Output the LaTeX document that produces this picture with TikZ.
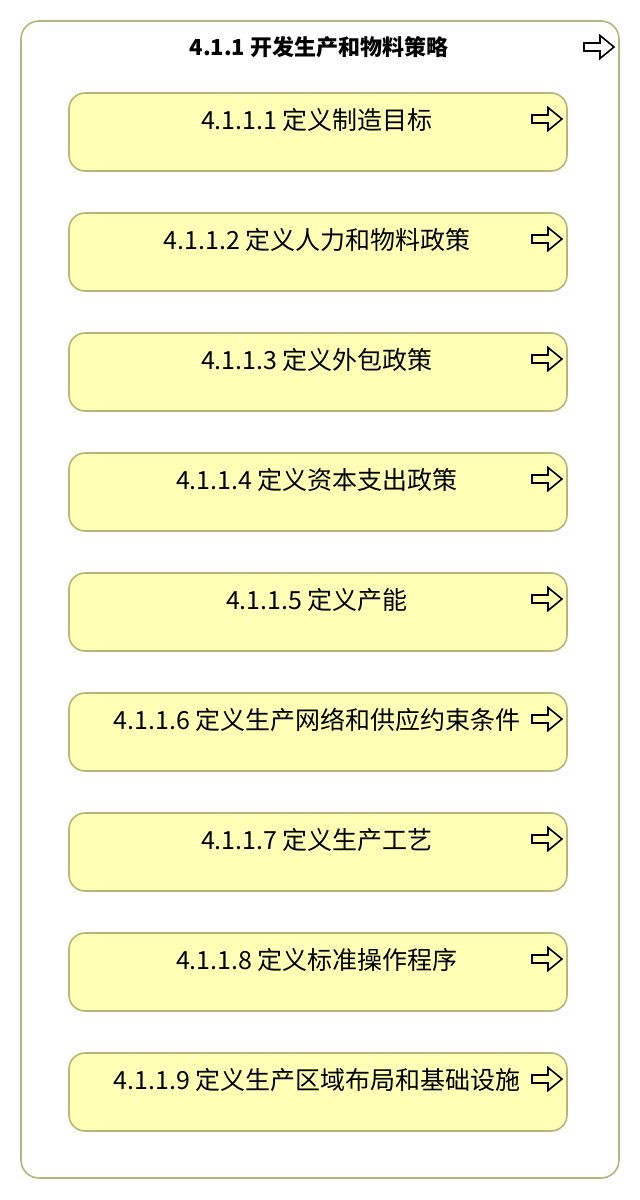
\documentclass[tikz,border=0pt]{standalone}
\usepackage{fontspec}
\setmainfont{Noto Sans CJK SC}
\definecolor{olive}{HTML}{B5B57C}
\definecolor{paleyellow}{HTML}{FFFFB5}
\tikzset{
  outerbox/.style={draw=olive, line width=1.6pt, rounded corners=18pt, fill=white},
  taskbox/.style={draw=olive, line width=1.6pt, rounded corners=16pt, fill=paleyellow},
  tasklabel/.style={anchor=center, inner sep=0pt, font=\fontsize{25}{27}\selectfont},
  titlelabel/.style={anchor=center, inner sep=0pt, font=\fontsize{22}{24}\selectfont\bfseries},
  arrowicon/.style={draw=black, line width=1.6pt, fill=none, line join=miter}
}
\newcommand{\arrowglyph}[2]{%
  \draw[arrowicon] (#1,#2-4) -- ++(16,0) -- ++(0,-7.5) -- ++(14,11.5) -- ++(-14,11.5) -- ++(0,-7.5) -- ++(-16,0) -- cycle;}
\begin{document}
\begin{tikzpicture}[x=1pt,y=-1pt]
\useasboundingbox (0,0) rectangle (640,1200);
\draw[outerbox] (21,21) rectangle (619,1178);
\node[titlelabel] (title) at (319,47) {4.1.1 开发生产和物料策略};
\arrowglyph{584}{47}
\foreach \i/\txt in {0/{4.1.1.1 定义制造目标},1/{4.1.1.2 定义人力和物料政策},2/{4.1.1.3 定义外包政策},3/{4.1.1.4 定义资本支出政策},4/{4.1.1.5 定义产能},5/{4.1.1.6 定义生产网络和供应约束条件},6/{4.1.1.7 定义生产工艺},7/{4.1.1.8 定义标准操作程序},8/{4.1.1.9 定义生产区域布局和基础设施}}{
  \draw[taskbox] (69,93+120*\i) rectangle (567,171+120*\i);
  \node[tasklabel] (t\i) at (317,120+120*\i) {\txt};
  \arrowglyph{532}{119+120*\i}
}
\end{tikzpicture}
\end{document}
